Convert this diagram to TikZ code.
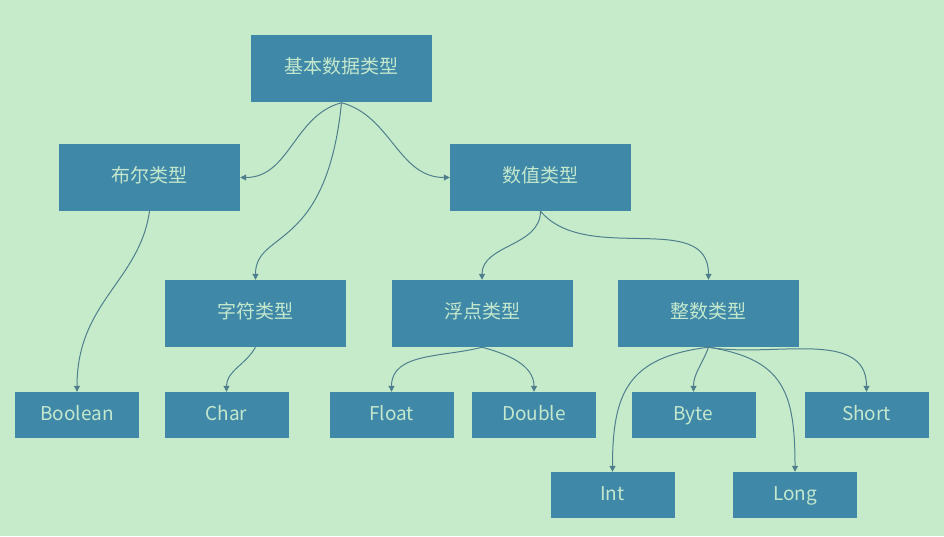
\documentclass[tikz,border=0pt]{standalone}
\usepackage{fontspec}
\setmainfont{Noto Sans CJK SC}
\usetikzlibrary{arrows.meta}
\definecolor{bg}{HTML}{C6EBCB}
\definecolor{boxfill}{HTML}{3F88A7}
\definecolor{boxtext}{HTML}{C4E8CD}
\definecolor{linecol}{HTML}{4F7F8C}
\begin{document}
\begin{tikzpicture}[x=1pt, y=1pt, font=\fontsize{19}{22}\selectfont,
  box/.style={fill=boxfill, text=boxtext, minimum width=181pt, minimum height=67pt,
    inner sep=0pt, text height=14pt, text depth=4pt},
  leaf/.style={box, minimum width=124pt, minimum height=46pt},
  link/.style={draw=linecol, line width=1pt, -{Triangle[width=6pt,length=6pt]}}]
\fill[bg] (0,0) rectangle (944,536);
\node[box] (root) at (341.5,467) {基本数据类型};
\node[box] (bool) at (149.5,358.5) {布尔类型};
\node[box] (num) at (540.5,358.5) {数值类型};
\node[box] (chr) at (255.5,222.5) {字符类型};
\node[box] (flt) at (482,222.5) {浮点类型};
\node[box] (intg) at (708.5,222.5) {整数类型};
\foreach \n/\x/\t in {boolean/77/Boolean, char/226.5/Char, float/391.5/Float,
  double/534/Double, byte/693.5/Byte, short/866.5/Short}
  \node[leaf] (\n) at (\x,121) {\t};
\node[leaf] (int) at (612.5,41) {Int};
\node[leaf] (long) at (795,41) {Long};
% edges
\draw[link] (root.south) to[out=195,in=0] (bool.east);
\draw[link] (root.south) to[out=-15,in=180] (num.west);
\draw[link] (root.south) .. controls +(-15,-150) and +(0,50) .. (chr.north);
\draw[link] (bool.south) .. controls +(-10,-70) and +(0,90) .. (boolean.north);
\draw[link] (intg.south) .. controls +(-80,-10) and +(0,80) .. (int.north);
\draw[link] (intg.south) .. controls +(75,-12) and +(0,80) .. (long.north);
\foreach \a/\b/\o in {chr/char/-120, num/flt/-90, num/intg/-50,
  flt/float/-165, flt/double/-15, intg/byte/-110, intg/short/-10}
  \draw[link] (\a.south) to[out=\o,in=90] (\b.north);
\end{tikzpicture}
\end{document}
